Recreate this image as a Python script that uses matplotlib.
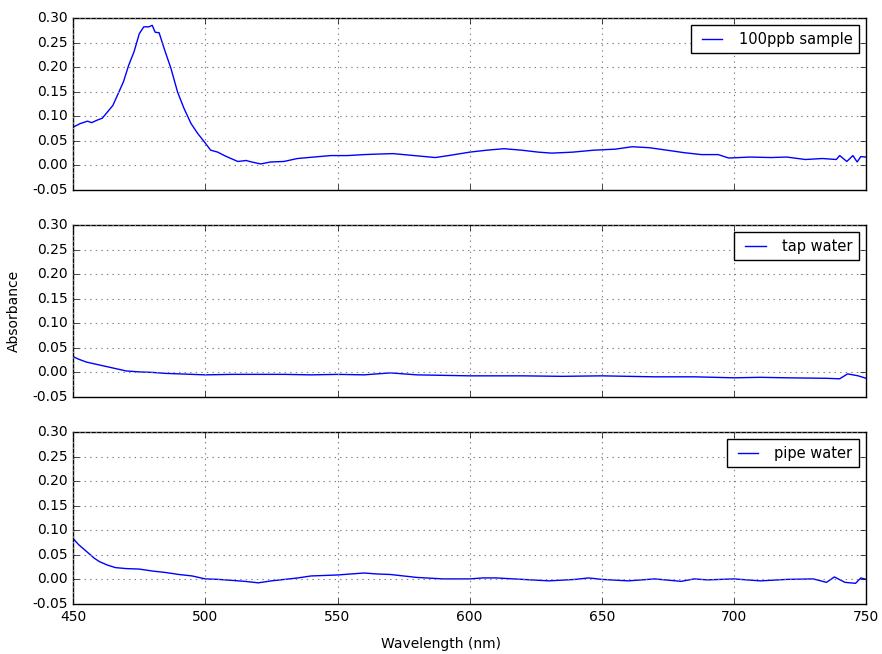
import numpy as np
import matplotlib
matplotlib.use('Agg')
import matplotlib.pyplot as plt

plt.style.use('classic')

# 100ppb sample
wl_sample = [450, 452.6, 455.4, 457, 459, 461, 463, 465, 467, 469, 471, 473, 475,
             476.7, 478.6, 479.9, 481, 482.5, 484.4, 487, 489.5, 492, 494.6, 497.1,
             499.6, 502, 504.7, 507.2, 509.7, 512.3, 515.4, 517.5, 520.9, 524.7, 529.7,
             534.8, 541, 547.4, 553.7, 560, 565, 571, 579, 587, 592, 600, 606.5, 613,
             619.6, 626, 631, 639, 647, 655, 661.5, 668, 674.6, 681, 687.7, 694, 698,
             706, 714, 720, 727, 733.5, 738.7, 740, 742.7, 745, 746.6, 748, 750]
ab_sample = [0.078, 0.085, 0.090, 0.087, 0.092, 0.096, 0.109, 0.122, 0.146, 0.170, 0.204,
             0.231, 0.268, 0.282, 0.282, 0.285, 0.271, 0.270, 0.238, 0.197, 0.149, 0.115,
             0.085, 0.065, 0.048, 0.031, 0.027, 0.020, 0.014, 0.008, 0.010, 0.007, 0.003,
             0.007, 0.008, 0.014, 0.017, 0.020, 0.020, 0.022, 0.023, 0.024, 0.020, 0.016,
             0.020, 0.027, 0.031, 0.034, 0.031, 0.027, 0.025, 0.027, 0.031, 0.033, 0.038,
             0.036, 0.031, 0.026, 0.022, 0.022, 0.015, 0.017, 0.016, 0.017, 0.012, 0.014,
             0.012, 0.020, 0.008, 0.020, 0.007, 0.018, 0.017]

# tap water
wl_tap = [450, 452, 455, 460, 465, 470, 475, 480, 485, 490, 500, 510, 520, 530, 540,
          550, 560, 570, 580, 590, 600, 610, 620, 635, 650, 660, 670, 685, 700, 710,
          720, 735, 740, 743, 747, 750]
ab_tap = [0.032, 0.027, 0.021, 0.015, 0.009, 0.003, 0.001, 0.000, -0.002, -0.003,
          -0.005, -0.004, -0.004, -0.004, -0.005, -0.004, -0.005, -0.001, -0.005,
          -0.006, -0.007, -0.007, -0.007, -0.008, -0.007, -0.008, -0.009, -0.009,
          -0.011, -0.010, -0.011, -0.012, -0.013, -0.003, -0.007, -0.012]

# pipe water
wl_pipe = [450, 452, 455, 458, 460, 463, 466, 470, 475, 480, 485, 490, 495, 500, 505,
           510, 515, 520, 525, 530, 535, 540, 545, 550, 555, 560, 565, 570, 575, 580,
           590, 600, 605, 610, 620, 630, 640, 645, 650, 660, 670, 680, 685, 690, 700,
           710, 720, 730, 735, 738, 742, 746, 748, 750]
ab_pipe = [0.083, 0.071, 0.057, 0.043, 0.036, 0.029, 0.024, 0.022, 0.021, 0.017, 0.014,
           0.010, 0.007, 0.001, 0.000, -0.002, -0.004, -0.007, -0.003, 0.000, 0.003,
           0.007, 0.008, 0.009, 0.011, 0.013, 0.011, 0.010, 0.007, 0.004, 0.001, 0.001,
           0.003, 0.003, 0.000, -0.003, 0.000, 0.003, 0.000, -0.003, 0.001, -0.004,
           0.001, -0.001, 0.001, -0.003, 0.000, 0.001, -0.006, 0.005, -0.006, -0.008,
           0.003, 0.000]

series = [(wl_sample, ab_sample, '100ppb sample'),
          (wl_tap, ab_tap, 'tap water'),
          (wl_pipe, ab_pipe, 'pipe water')]

fig, axes = plt.subplots(3, 1, sharex=True, figsize=(8.82, 6.54), dpi=100)
fig.patch.set_facecolor('white')
fig.subplots_adjust(left=0.083, right=0.982, top=0.9725, bottom=0.0765, hspace=0.2035)

for ax, (x, y, name) in zip(axes, series):
    ax.plot(x, y, color='b', lw=1, label=name)
    ax.set_xlim(450, 750)
    ax.set_ylim(-0.05, 0.30)
    ax.set_yticks(np.arange(-0.05, 0.31, 0.05))
    ax.grid(True, color='gray', linestyle=':', linewidth=0.8)
    ax.tick_params(labelsize=10)
    ax.legend(loc='upper right', fontsize=10.5, handlelength=2.0, borderpad=0.45,
              handletextpad=0.8, framealpha=1)
    ax.yaxis.set_major_formatter(matplotlib.ticker.FormatStrFormatter('%.2f'))

fig.text(0.5, 0.009, 'Wavelength (nm)', ha='center', fontsize=10)
fig.text(0.008, 0.525, 'Absorbance', va='center', rotation=90, fontsize=10)

fig.savefig('out.png', dpi=100, facecolor='white')
